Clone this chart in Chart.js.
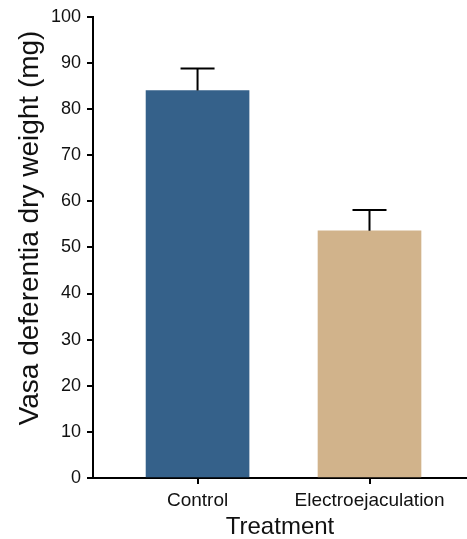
<!DOCTYPE html>
<html>
<head>
<meta charset="utf-8">
<script src="https://cdn.jsdelivr.net/npm/chart.js@4"></script>
<style>
  html, body { margin: 0; padding: 0; background: #fff; }
  #wrap { width: 467px; height: 539px; }
</style>
</head>
<body>
<div id="wrap"><canvas id="myChart" width="467" height="539"></canvas></div>
<script>
// data
var categories = ["Control", "Electroejaculation"];
var means = [84.0, 53.6];
var sem = [4.8, 4.5];
var barColors = ["#35618a", "#d1b38b"];
var yTicks = [0, 10, 20, 30, 40, 50, 60, 70, 80, 90, 100];

var FONT = "'Liberation Sans', Arial, sans-serif";

// upper error bars, drawn through the y scale
var errorBars = {
	id: 'errorBars',
	afterDatasetsDraw: function(chart) {
		var ctx = chart.ctx;
		var meta = chart.getDatasetMeta(0);
		var y = chart.scales.y;
		ctx.save();
		ctx.strokeStyle = "#000";
		ctx.lineWidth = 2;
		for (var i = 0; i < meta.data.length; i++) {
			var bar = meta.data[i];
			var top = y.getPixelForValue(means[i] + sem[i]);
			ctx.beginPath();
			ctx.moveTo(bar.x, bar.y);
			ctx.lineTo(bar.x, top);
			ctx.moveTo(bar.x - 17, top);
			ctx.lineTo(bar.x + 17, top);
			ctx.stroke();
		}
		ctx.restore();
	}
};

var ctx = document.getElementById("myChart").getContext('2d');
var chart = new Chart(ctx, {
	type: 'bar',
	data: {
		datasets: [{
			data: means.map(function(m, i) { return {x: i + 1, y: m}; }),
			backgroundColor: barColors,
			borderWidth: 0,
			barThickness: 103
		}]
	},
	options: {
		responsive: false,
		animation: false,
		layout: { padding: { top: 15, right: 0, left: 0, bottom: 0 } },
		plugins: { legend: { display: false }, tooltip: { enabled: false } },
		scales: {
			x: {
				type: 'linear',
				offset: false,
				min: 0.392,
				max: 2.567,
				afterBuildTicks: function(scale) {
					scale.ticks = categories.map(function(c, i) { return {value: i + 1}; });
				},
				afterFit: function(scale) { scale.height = 61; },
				ticks: {
					callback: function(v) { return categories[v - 1]; },
					color: "#111",
					font: { family: FONT, size: 19 },
					padding: 5,
					maxRotation: 0
				},
				grid: { offset: false, drawOnChartArea: false, tickLength: 6, tickColor: "#000", lineWidth: 2 },
				border: { color: "#000", width: 2 },
				title: {
					display: true,
					text: "Treatment",
					color: "#111",
					font: { family: FONT, size: 24, lineHeight: 1 },
					padding: 0
				}
			},
			y: {
				min: 0,
				max: 100,
				afterBuildTicks: function(scale) {
					scale.ticks = yTicks.map(function(v) { return {value: v}; });
				},
				afterFit: function(scale) { scale.width = 93; },
				ticks: {
					color: "#111",
					font: { family: FONT, size: 18 },
					padding: 6
				},
				grid: { drawOnChartArea: false, tickLength: 6, tickColor: "#000", lineWidth: 2 },
				border: { color: "#000", width: 2 },
				title: {
					display: true,
					// leading spaces lift the centred title a little, as in the original
					text: "     Vasa deferentia dry weight (mg)",
					color: "#111",
					font: { family: FONT, size: 28, lineHeight: 1 },
					padding: { top: 16, bottom: 0 }
				}
			}
		}
	},
	plugins: [errorBars]
});
</script>
</body>
</html>
